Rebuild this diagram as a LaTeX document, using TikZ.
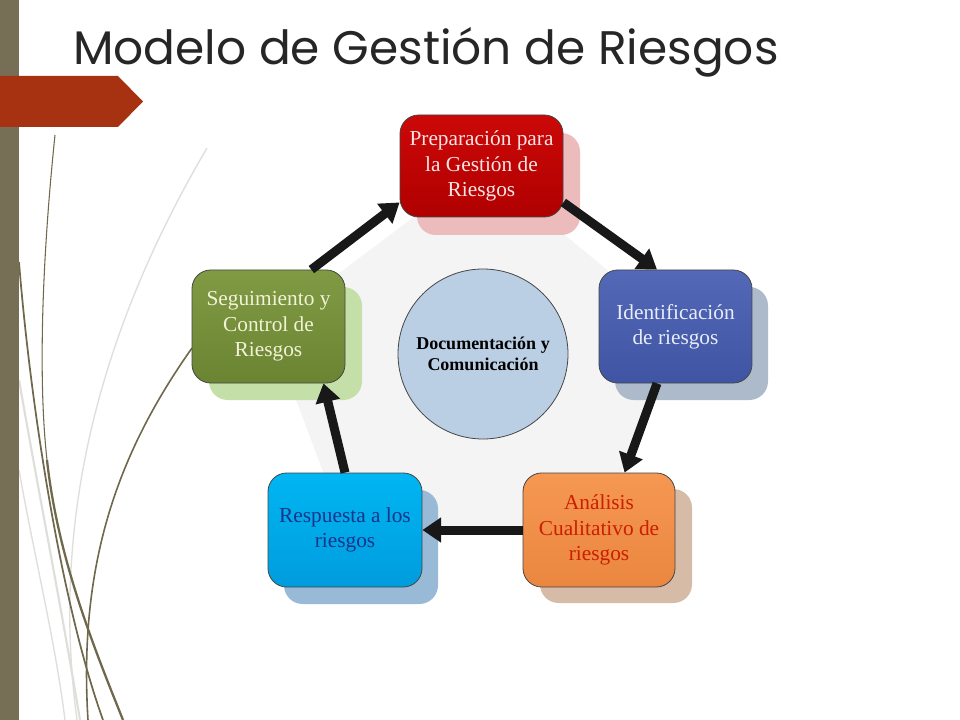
\documentclass[tikz,border=0pt]{standalone}
\usepackage{fontspec}
\setmainfont{Liberation Serif}
\newfontfamily\titlefont{Poppins}
\usetikzlibrary{arrows.meta,shadows}
\definecolor{barcol}{RGB}{118,111,86}
\definecolor{curvecol}{RGB}{112,104,76}
\definecolor{lightcurve}{RGB}{222,222,218}
\definecolor{bannercol}{RGB}{166,50,17}
\definecolor{titlecol}{RGB}{38,38,38}
\definecolor{pentcol}{RGB}{244,244,244}
\definecolor{arrcol}{RGB}{24,24,24}
\definecolor{edgecol}{RGB}{70,70,70}
\definecolor{redtop}{RGB}{204,8,8}
\definecolor{redbot}{RGB}{176,0,0}
\definecolor{redsh}{RGB}{236,188,188}
\definecolor{redtxt}{RGB}{248,228,228}
\definecolor{bluetop}{RGB}{84,104,184}
\definecolor{bluebot}{RGB}{64,84,164}
\definecolor{bluesh}{RGB}{172,186,204}
\definecolor{bluetxt}{RGB}{232,236,248}
\definecolor{orgtop}{RGB}{246,152,82}
\definecolor{orgbot}{RGB}{234,134,64}
\definecolor{orgsh}{RGB}{214,188,166}
\definecolor{orgtxt}{RGB}{204,30,0}
\definecolor{cyantop}{RGB}{0,182,242}
\definecolor{cyanbot}{RGB}{0,156,222}
\definecolor{cyansh}{RGB}{152,186,214}
\definecolor{cyantxt}{RGB}{22,52,140}
\definecolor{grntop}{RGB}{128,154,68}
\definecolor{grnbot}{RGB}{106,132,50}
\definecolor{grnsh}{RGB}{196,224,168}
\definecolor{grntxt}{RGB}{242,242,214}
\definecolor{circfill}{RGB}{186,206,228}
\tikzset{
  stagebox/.style={draw=edgecol, line width=0.6pt, rounded corners=14pt,
    align=center, inner sep=2pt, font=\fontsize{16}{19}\selectfont},
  flowarrow/.style={draw=arrcol, line width=6.75pt,
    -{Triangle[width=18pt,length=14pt]}},
  darkcurve/.style={draw=curvecol, line width=1.3pt},
  lightline/.style={draw=lightcurve, line width=1pt},
}
\begin{document}
\begin{tikzpicture}[x=0.75pt,y=-0.75pt]
\useasboundingbox (0,0) rectangle (960,720);
\fill[white] (0,0) rectangle (960,720);
% decorative curves
\draw[lightline] (207,148) .. controls (100,330) and (50,520) .. (77,720);
\draw[lightline, line width=1.6pt] (19,380) .. controls (40,500) and (60,600) .. (80,720);
\draw[lightline] (19,470) .. controls (35,560) and (55,640) .. (65,720);
\draw[darkcurve, line width=0.8pt] (55,135) .. controls (42,260) and (38,380) .. (47,460);
\draw[darkcurve, line width=1.7pt] (47,460) .. controls (58,560) and (95,650) .. (123,720);
\draw[darkcurve, line width=1.3pt] (19,262) .. controls (30,400) and (60,600) .. (103,720);
\draw[darkcurve, line width=1.2pt] (192,348) .. controls (120,450) and (78,560) .. (88,720);
% left bar and banner
\fill[barcol] (0,0) rectangle (19,720);
\fill[bannercol] (0,76) -- (118,76) -- (143,101.5) -- (118,127) -- (0,127) -- cycle;
% title
\node[anchor=base west, inner sep=0pt, text=titlecol,
  font=\titlefont\fontsize{35.3}{40}\selectfont] (title) at (73,65) {Modelo de Gestión de Riesgos};
% pentagon background
\fill[pentcol] (481.5,166) -- (675.5,326.5) -- (599,530) -- (345,530) -- (268.5,326.5) -- cycle;
% stages
\node[stagebox, minimum width=122.25pt, minimum height=76.5pt,
  top color=redtop, bottom color=redbot, text=redtxt,
  general shadow={fill=redsh, shadow xshift=12.75pt, shadow yshift=-13.5pt}]
  (prep) at (481.5,166) {Preparación para\\la Gestión de\\Riesgos};
\node[stagebox, minimum width=114.75pt, minimum height=84.75pt,
  top color=bluetop, bottom color=bluebot, text=bluetxt,
  general shadow={fill=bluesh, shadow xshift=12pt, shadow yshift=-12.75pt}]
  (iden) at (675.5,326.5) {Identificación\\de riesgos};
\node[stagebox, minimum width=114pt, minimum height=85.5pt,
  top color=orgtop, bottom color=orgbot, text=orgtxt,
  general shadow={fill=orgsh, shadow xshift=12.75pt, shadow yshift=-12pt}]
  (anal) at (599,530) {Análisis\\Cualitativo de\\riesgos};
\node[stagebox, minimum width=115.5pt, minimum height=85.5pt,
  top color=cyantop, bottom color=cyanbot, text=cyantxt,
  general shadow={fill=cyansh, shadow xshift=12pt, shadow yshift=-12.75pt}]
  (resp) at (345,530) {Respuesta a los\\riesgos};
\node[stagebox, minimum width=114.75pt, minimum height=84.75pt,
  top color=grntop, bottom color=grnbot, text=grntxt,
  general shadow={fill=grnsh, shadow xshift=12.75pt, shadow yshift=-12.75pt}]
  (segu) at (268.5,326.5) {Seguimiento y\\Control de\\Riesgos};
% centre
\node[circle, draw=edgecol, line width=0.6pt, fill=circfill, minimum size=127.5pt,
  align=center, font=\bfseries\fontsize{13.5}{16}\selectfont, text=black]
  (doc) at (483,354) {Documentación y\\Comunicación};
% arrows
\draw[flowarrow] (segu.53) -- (prep.204);
\draw[flowarrow] (prep.336) -- (iden.108);
\draw[flowarrow] (iden.252) -- (anal.66);
\draw[flowarrow] (anal.west) -- (resp.east);
\draw[flowarrow] (resp.north) -- (segu.314);
\end{tikzpicture}
\end{document}
